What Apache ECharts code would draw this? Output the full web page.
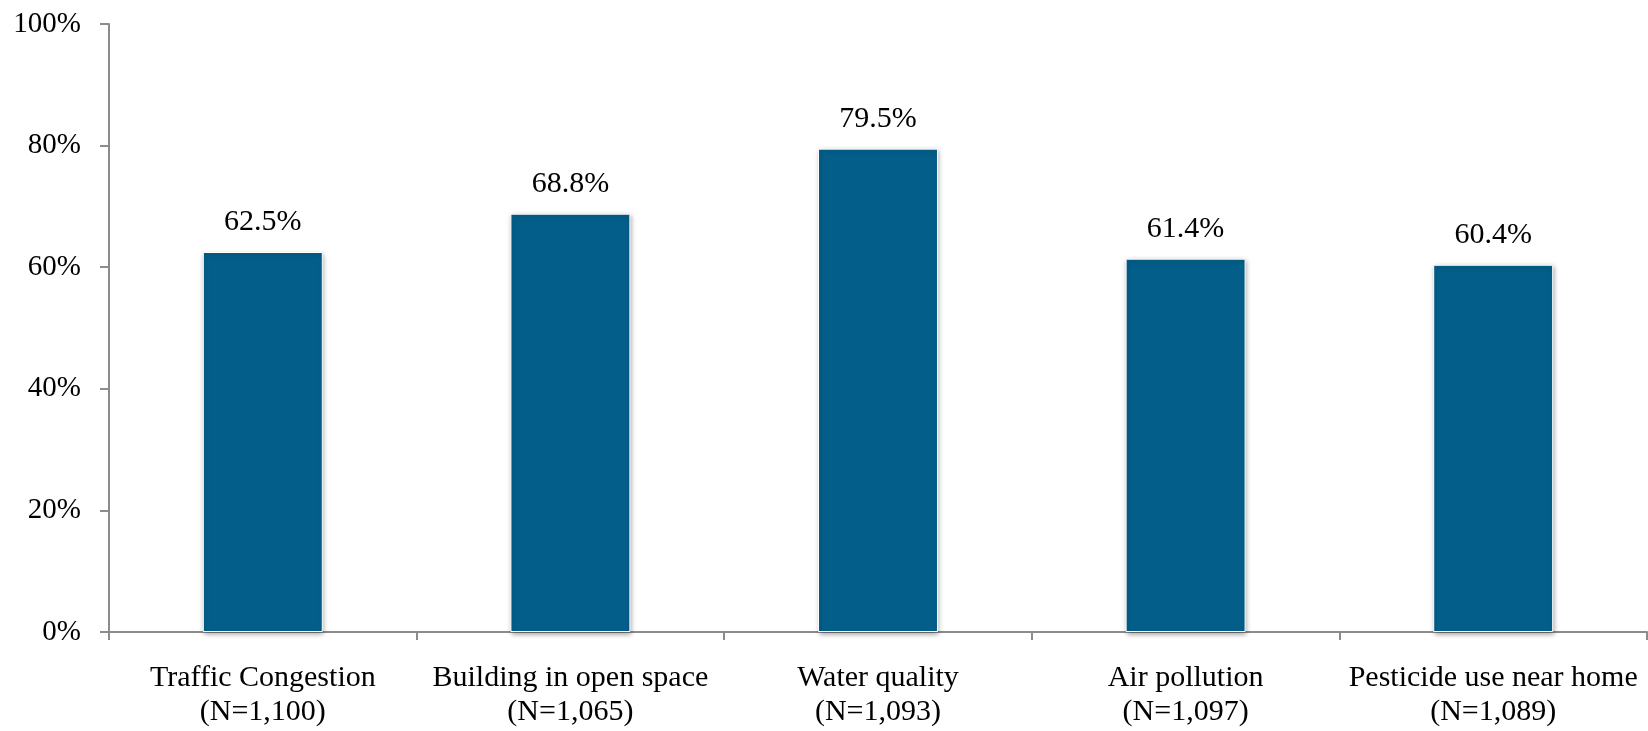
<!DOCTYPE html>
<html>
<head>
<meta charset="utf-8">
<script src="https://cdn.jsdelivr.net/npm/echarts@6/dist/echarts.min.js"></script>
<style>html,body{margin:0;padding:0;background:#fff;}#c{width:1648px;height:731px;}</style>
</head>
<body>
<div id="c"></div>
<script>
const categories = ["Traffic Congestion", "Building in open space", "Water quality", "Air pollution", "Pesticide use near home"];
const sampleSizes = ["1,100", "1,065", "1,093", "1,097", "1,089"];
const values = [62.5, 68.8, 79.5, 61.4, 60.4];
const yTicks = [0, 20, 40, 60, 80, 100];

const FONT = '"Liberation Serif", "DejaVu Serif", serif';
const chart = echarts.init(document.getElementById('c'));
chart.setOption({
  animation: false,
  grid: { left: 109, right: 1, top: 24, bottom: 99, containLabel: false },
  xAxis: {
    type: 'category',
    data: categories.map((c, i) => c + '\n(N=' + sampleSizes[i] + ')'),
    axisLine: { lineStyle: { color: '#8c8c8c', width: 2 } },
    axisTick: { show: true, length: 8, lineStyle: { color: '#8c8c8c', width: 2 }, alignWithLabel: false },
    axisLabel: { fontFamily: FONT, fontSize: 30, color: '#000', lineHeight: 34, margin: 29, interval: 0 }
  },
  yAxis: {
    type: 'value',
    min: yTicks[0], max: yTicks[yTicks.length - 1], interval: 20,
    axisLine: { show: true, lineStyle: { color: '#8c8c8c', width: 2 } },
    axisTick: { show: true, length: 9, lineStyle: { color: '#8c8c8c', width: 2 } },
    splitLine: { show: false },
    axisLabel: { fontFamily: FONT, fontSize: 29, color: '#000', margin: 28, formatter: v => v + '%' }
  },
  series: [{
    type: 'bar',
    data: values,
    barWidth: '39%',
    itemStyle: {
      color: '#035f8a',
      borderColor: '#ffffff', borderWidth: 1,
      shadowBlur: 5, shadowColor: 'rgba(0,0,0,0.35)', shadowOffsetX: 1, shadowOffsetY: 2
    },
    label: {
      show: true, position: 'top', distance: 15,
      fontFamily: FONT, fontSize: 30, color: '#000',
      formatter: p => p.value.toFixed(1) + '%'
    }
  }]
});
</script>
</body>
</html>
